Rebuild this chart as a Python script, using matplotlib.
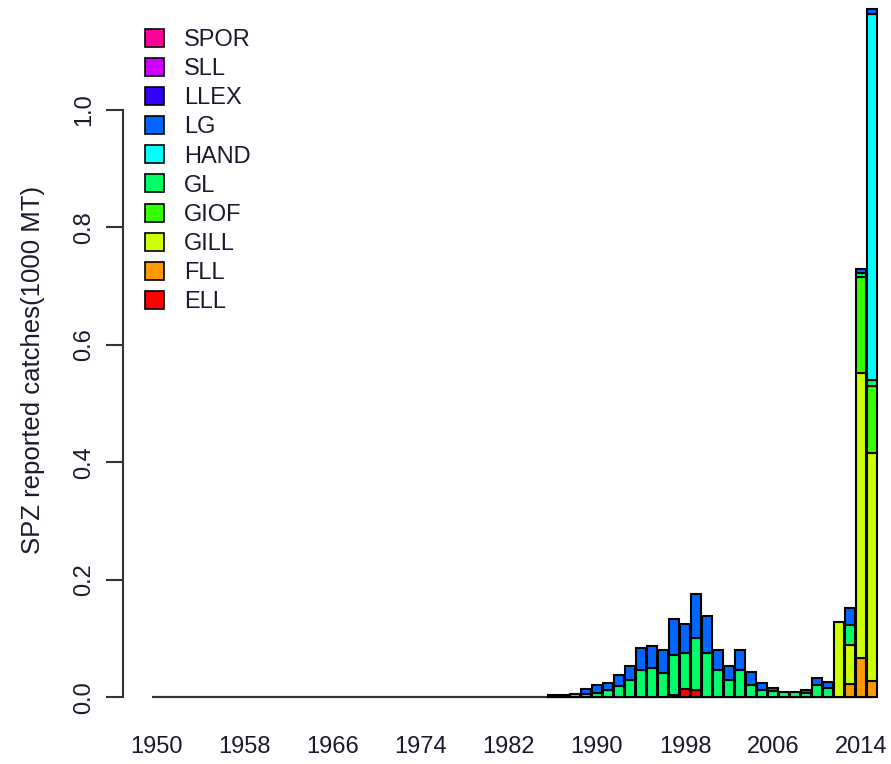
import matplotlib
matplotlib.use("Agg")
import matplotlib.pyplot as plt
from matplotlib.patches import Patch
import numpy as np

# ======================================================
# DATA  (SPZ reported catches, 1000 MT)
# ======================================================
years = list(range(1950, 2016))
gears = ["ELL", "FLL", "GILL", "GIOF", "GL", "HAND", "LG", "LLEX", "SLL", "SPOR"]

# 1950-1985 are all zero, values below start at 1986
ZERO = [0.0] * 36
ell  = ZERO + [0, 0, 0, 0, 0, 0, 0, 0, 0, 0, 0, 0.005, 0.015, 0.0125, 0, 0,
               0, 0, 0, 0, 0, 0, 0, 0, 0, 0, 0, 0, 0, 0]
fll  = ZERO + [0, 0, 0, 0, 0, 0, 0, 0, 0, 0, 0, 0, 0, 0, 0, 0,
               0, 0, 0, 0, 0, 0, 0, 0, 0, 0, 0, 0.023, 0.067, 0.0286]
gill = ZERO + [0, 0, 0, 0, 0, 0, 0, 0, 0, 0, 0, 0, 0, 0, 0, 0,
               0, 0, 0, 0, 0, 0, 0, 0, 0, 0, 0.129, 0.066, 0.485, 0.387]
giof = ZERO + [0, 0, 0, 0, 0, 0, 0, 0, 0, 0, 0, 0, 0, 0, 0, 0,
               0, 0, 0, 0, 0, 0, 0, 0, 0, 0, 0, 0, 0.164, 0.114]
gl   = ZERO + [0.004, 0.004, 0.006, 0.006, 0.008, 0.013, 0.020, 0.030, 0.047, 0.050,
               0.042, 0.068, 0.061, 0.088, 0.076, 0.046, 0.030, 0.046, 0.022, 0.013,
               0.011, 0.010, 0.010, 0.007, 0.021, 0.017, 0, 0.034, 0.007, 0.0116]
hand = ZERO + [0, 0, 0, 0, 0, 0, 0, 0, 0, 0, 0, 0, 0, 0, 0, 0,
               0, 0, 0, 0, 0, 0, 0, 0, 0, 0, 0, 0, 0, 0.622]
lg   = ZERO + [0, 0, 0, 0.008, 0.0125, 0.011, 0.018, 0.024, 0.038, 0.038,
               0.039, 0.060, 0.049, 0.0765, 0.063, 0.034, 0.024, 0.035, 0.022, 0.011,
               0.006, 0, 0, 0.006, 0.013, 0.0095, 0, 0.030, 0.006, 0.0085]
llex = ZERO + [0] * 30
sll  = ZERO + [0] * 30
spor = ZERO + [0] * 30

series = [ell, fll, gill, giof, gl, hand, lg, llex, sll, spor]

# R rainbow(10)
colors = ["#FF0000", "#FF9900", "#CCFF00", "#33FF00", "#00FF66",
          "#00FFFF", "#0066FF", "#3300FF", "#CC00FF", "#FF0099"]

label_years = list(range(1950, 2016, 8))

# ======================================================
# STYLE
# ======================================================
plt.rcParams.update({
    "font.family": ["Liberation Sans", "DejaVu Sans"],
    "font.size":   17,
})
TEXT_COLOR = "#1a1a2e"
LINE_COLOR = "#333333"

W, H = 891, 764
fig = plt.figure(figsize=(W / 100, H / 100), dpi=100)

# axes placed in pixels so the bars land where R put them
ax_left, ax_right = 123.4, 891.0
ax_top, ax_bottom = 4.25, 725.1
ax = fig.add_axes([ax_left / W, 1 - ax_bottom / H,
                   (ax_right - ax_left) / W, (ax_bottom - ax_top) / H])
ax.set_xlim(-2.96, 80.77)
ax.set_ylim(-0.047, 1.18)

# ── stacked bars (R barplot: width 1, space 0.2) ─────
x = 0.7 + 1.2 * np.arange(len(years))
bottom = np.zeros(len(years))
for vals, col in zip(series, colors):
    vals = np.array(vals)
    mask = vals > 0
    ax.bar(x[mask], vals[mask], width=1.0, bottom=bottom[mask],
           color=col, edgecolor="black", linewidth=1.5)
    bottom += vals

# baseline under the bars
ax.plot([x[0] - 0.5, x[-1] + 0.5], [0, 0], color=LINE_COLOR, linewidth=1.6,
        zorder=0.5, solid_capstyle="butt")

# ── axes cosmetics ───────────────────────────────────
for s in ["top", "right", "bottom"]:
    ax.spines[s].set_visible(False)
ax.spines["left"].set_bounds(0, 1.0)
ax.spines["left"].set_linewidth(1.5)
ax.spines["left"].set_color(LINE_COLOR)

yt = [0.0, 0.2, 0.4, 0.6, 0.8, 1.0]
ax.set_yticks(yt)
ax.set_yticklabels([f"{v:.1f}" for v in yt], rotation=90, va="center",
                   color=TEXT_COLOR)
ax.tick_params(axis="y", length=12, width=1.5, color=LINE_COLOR, pad=8)

idx = [years.index(y) for y in label_years]
ax.set_xticks(x[idx])
ax.set_xticklabels([str(y) for y in label_years], color=TEXT_COLOR)
ax.tick_params(axis="x", length=0, pad=8)

fig.text(33 / W, 1 - 370 / H, "SPZ reported catches(1000 MT)", rotation=90,
         ha="center", va="center", fontsize=18.5, color=TEXT_COLOR)

# ── legend ───────────────────────────────────────────
handles = [Patch(facecolor=c, edgecolor="black", linewidth=1.2)
           for c in colors[::-1]]
ax.legend(handles, gears[::-1], loc="upper left",
          bbox_to_anchor=(145 / W, 1 - 29 / H), bbox_transform=fig.transFigure,
          frameon=False, handlelength=0.8, handleheight=0.8,
          handletextpad=0.85, labelspacing=0.29, borderpad=0, borderaxespad=0,
          labelcolor=TEXT_COLOR)

fig.savefig("out.png", dpi=100)
